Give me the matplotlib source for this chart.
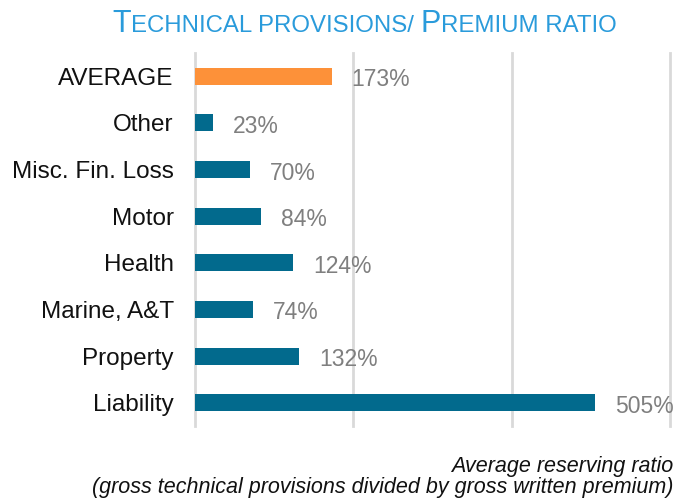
import numpy as np
import matplotlib.pyplot as plt

plt.rcParams['font.family'] = ['Liberation Sans', 'DejaVu Sans']

categories = ["Liability", "Property", "Marine, A&T", "Health", "Motor",
              "Misc. Fin. Loss", "Other", "AVERAGE"]
values = [505, 132, 74, 124, 84, 70, 23, 173]
labels = ["505%", "132%", "74%", "124%", "84%", "70%", "23%", "173%"]

teal = "#026A8D"
orange = "#FD9139"
colors = [teal] * 7 + [orange]

fig = plt.figure(figsize=(6.91, 5.04), dpi=100)
ax = fig.add_axes([194.5 / 691, 1 - 426 / 504, (670 - 194.5) / 691, (426 - 53) / 504])

y = np.arange(len(categories))
ax.barh(y, values, height=0.365, color=colors, zorder=2)

for xv in [0, 200, 400, 600]:
    ax.axvline(xv, color="#d9d9d9", lw=2, zorder=0, clip_on=False)

for yi, v, lab in zip(y, values, labels):
    ax.annotate(lab, xy=(v, yi), xytext=(14.5, -2.5), textcoords="offset points",
                ha="left", va="center", fontsize=16.5, color="#7F7F7F")

ax.set_xlim(0, 600)
ax.set_ylim(-0.5, 7.5)
ax.set_yticks(y)
ax.set_yticklabels(categories, fontsize=17.5, color="#111111")
ax.tick_params(axis="y", length=0, pad=15)
ax.set_xticks([])
for s in ax.spines.values():
    s.set_visible(False)

# title in small caps, built from pieces
title_color = "#2A9BDB"
big, small = 22, 17.3
pieces = [("T", big), ("ECHNICAL PROVISIONS/", small), (" ", small), ("P", big), ("REMIUM RATIO", small)]
renderer = fig.canvas.get_renderer()
arts = []
for txt, fs in pieces:
    t = fig.text(0, 1 - 32 / 504, txt if txt.strip() else "I", fontsize=fs,
                 color=title_color, va="baseline", ha="left")
    arts.append(t)
widths = []
for (txt, fs), t in zip(pieces, arts):
    w = t.get_window_extent(renderer).width
    if not txt.strip():
        w = fs * 100 / 72 * 0.278
        t.set_visible(False)
    widths.append(w)
x0 = 364.5 - sum(widths) / 2
for t, w in zip(arts, widths):
    t.set_x(x0 / 691)
    x0 += w

fig.text(673 / 691, 1 - 472 / 504, "Average reserving ratio", ha="right",
         va="baseline", fontsize=15.5, style="italic", color="#111111")
fig.text(673 / 691, 1 - 493 / 504,
         "(gross technical provisions divided by gross written premium)",
         ha="right", va="baseline", fontsize=15.5, style="italic", color="#111111")

fig.savefig("out.png", dpi=100)
